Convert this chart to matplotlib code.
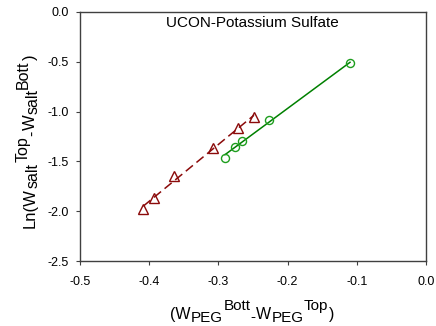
import numpy as np
import matplotlib
matplotlib.use("Agg")
import matplotlib.pyplot as plt

plt.rcParams['font.family'] = ['Liberation Sans', 'DejaVu Sans']

# Data
tri_x = [-0.4085, -0.3926, -0.3637, -0.3074, -0.2722, -0.2486]
tri_y = [-1.981, -1.864, -1.647, -1.362, -1.168, -1.058]
circ_x = [-0.2905, -0.2760, -0.2655, -0.2269, -0.1098]
circ_y = [-1.463, -1.352, -1.292, -1.084, -0.515]

xticks = [-0.5, -0.4, -0.3, -0.2, -0.1, 0.0]
yticks = [0.0, -0.5, -1.0, -1.5, -2.0, -2.5]
title = "UCON-Potassium Sulfate"

red = '#8B0A0A'
green = '#1E9E1E'
gline = '#008000'

fig = plt.figure(figsize=(4.36, 3.26), dpi=100)
ax = fig.add_axes([80/436, 1-261/326, 346/436, 249/326])

# fitted lines
p1 = np.polyfit(tri_x, tri_y, 1)
xs1 = np.array([min(tri_x), max(tri_x)])
ax.plot(xs1, np.polyval(p1, xs1), color=red, lw=1.1, ls=(0, (6, 3)), zorder=2)
p2 = np.polyfit(circ_x, circ_y, 1)
xs2 = np.array([min(circ_x), max(circ_x)])
ax.plot(xs2, np.polyval(p2, xs2), color=gline, lw=1.1, zorder=2)

ax.plot(tri_x, tri_y, ls='none', marker='^', ms=6.8, mfc='none', mec=red, mew=1.0, zorder=3)
ax.plot(circ_x, circ_y, ls='none', marker='o', ms=5.8, mfc='none', mec=green, mew=1.0, zorder=3)

ax.set_xlim(-0.5, 0.0)
ax.set_ylim(-2.5, 0.0)
ax.set_xticks(xticks)
ax.set_yticks(yticks)
ax.set_xticklabels([f"{v:.1f}" for v in xticks])
ax.set_yticklabels([f"{v:.1f}" for v in yticks])
ax.tick_params(direction='out', length=3, width=0.8, labelsize=9, colors='#404040', labelcolor='black')
ax.tick_params(axis='x', pad=8)
ax.tick_params(axis='y', pad=5)
for s in ax.spines.values():
    s.set_color('#404040')
    s.set_linewidth(1.0)

fig.text(252/436, (326-27)/326, title, ha='center', va='baseline', fontsize=11)

# Axis labels built from pieces (text, size, baseline shift in points)
xl_main, xl_sub = 11.5, 11
xpieces = [('(W', xl_main, 0), ('PEG', xl_sub, -1.8), ('Bott', xl_sub, 6.5),
           ('-', xl_sub, -1.8), ('W', xl_main, 0), ('PEG', xl_sub, -1.8),
           ('Top', xl_sub, 6.5), (')', xl_main, 0)]
yl_main, yl_sub = 12, 11.5
ypieces = [('Ln(W', yl_main, 0), ('salt', yl_sub, -1.8), ('Top', yl_sub, 5.5),
           ('-', yl_sub, -1.8), ('W', yl_main, 0), ('salt', yl_sub, -1.8),
           ('Bott', yl_sub, 5.5), (')', yl_main, 0)]

# x label: start at figure pixel x=170, baseline 7 px from bottom
prev = ax.annotate(xpieces[0][0], xy=(170, 7), xycoords='figure pixels',
                   fontsize=xpieces[0][1], ha='left', va='baseline', annotation_clip=False)
for txt, size, shift in xpieces[1:]:
    prev = ax.annotate(txt, xy=(1, 7), xycoords=(prev, 'figure pixels'),
                       xytext=(0.3, shift), textcoords='offset points',
                       fontsize=size, ha='left', va='baseline', annotation_clip=False)

# y label: baseline at x=35 px, starting 98 px from bottom, rotated
x0, y0 = 35, 326 - 228
prev = ax.annotate(ypieces[0][0], xy=(x0, y0), xycoords='figure pixels',
                   fontsize=ypieces[0][1], ha='left', va='baseline',
                   rotation=90, rotation_mode='anchor', annotation_clip=False)
for txt, size, shift in ypieces[1:]:
    prev = ax.annotate(txt, xy=(x0, 1), xycoords=('figure pixels', prev),
                       xytext=(-shift, 0.3), textcoords='offset points',
                       fontsize=size, ha='left', va='baseline',
                       rotation=90, rotation_mode='anchor', annotation_clip=False)

fig.savefig('out.png', dpi=100)
